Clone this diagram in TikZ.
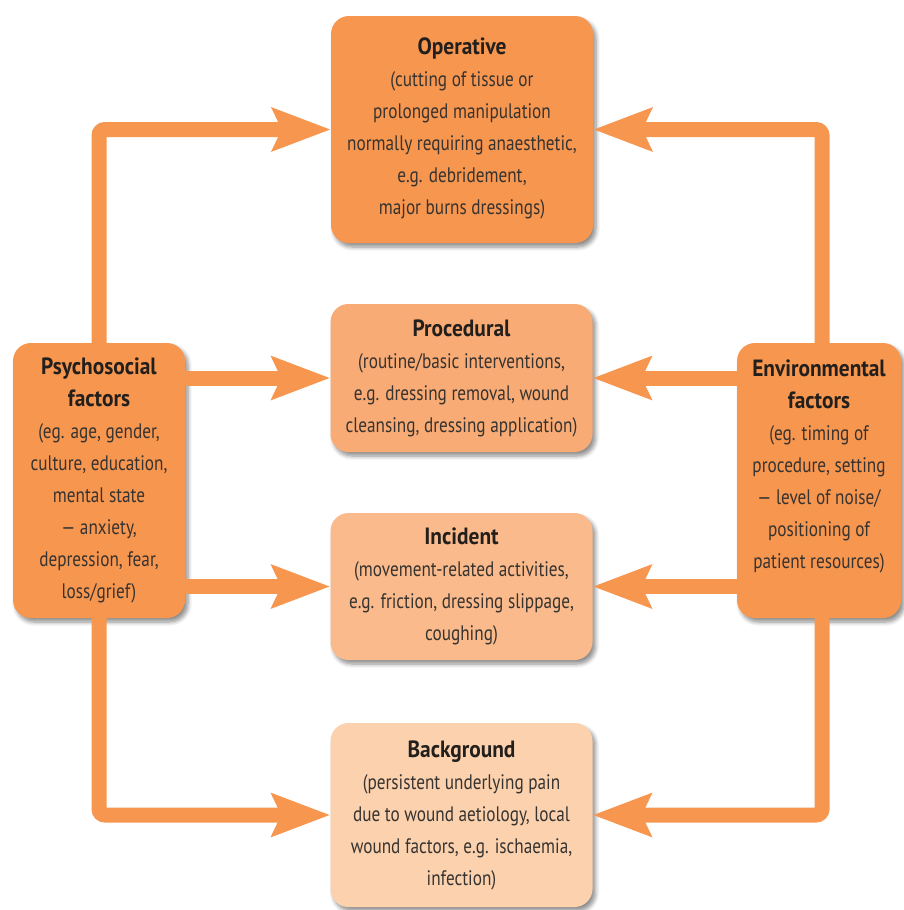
\documentclass[tikz,border=0pt]{standalone}
\usepackage{fontspec}
\setmainfont{PT Sans}[FakeStretch=0.82]
\newfontfamily\headf{PT Sans}[FakeStretch=0.91]
\usetikzlibrary{arrows.meta,shadows.blur,calc}
\definecolor{orA}{HTML}{F7964F}
\definecolor{orB}{HTML}{F8AB74}
\definecolor{orC}{HTML}{FABA8B}
\definecolor{orD}{HTML}{FCD1AE}
\definecolor{txt}{HTML}{363330}
\definecolor{hdc}{HTML}{221F1C}
\tikzset{
  box/.style={rectangle, rounded corners=18pt, inner sep=0pt, align=center,
    text=txt, font={\fontsize{21}{32}\selectfont},
    blur shadow={shadow xshift=3pt, shadow yshift=-4pt, shadow blur steps=6, shadow blur radius=4pt, shadow opacity=45}},
  arr/.style={draw=orA, line width=15pt, rounded corners=6pt,
    -{Stealth[length=58pt, width=42pt, inset=9pt]}},
}
\newcommand{\hd}[1]{{\headf\fontsize{23.5}{32}\selectfont\bfseries\color{hdc}#1}}
\begin{document}
\begin{tikzpicture}[x=1pt,y=-1pt]
\useasboundingbox (0,0) rectangle (903,910);
\node[box, fill=orA, minimum width=262pt, minimum height=227pt] (op) at (462,129.5)
  {\hd{Operative}\\(cutting of tissue or\\prolonged manipulation\\normally requiring anaesthetic,\\e.g. debridement,\\major burns dressings)\\[-26pt]\mbox{}};
\node[box, fill=orB, minimum width=262pt, minimum height=148pt] (proc) at (461.5,378)
  {\hd{Procedural}\\(routine/basic interventions,\\e.g. dressing removal, wound\\cleansing, dressing application)};
\node[box, fill=orC, minimum width=262pt, minimum height=147pt] (inc) at (461.5,586.5)
  {\hd{Incident}\\(movement-related activities,\\e.g. friction, dressing slippage,\\coughing)};
\node[box, fill=orD, minimum width=262pt, minimum height=184pt] (bg) at (461.5,815)
  {\hd{Background}\\(persistent underlying pain\\due to wound aetiology, local\\wound factors, e.g. ischaemia,\\infection)};
\node[box, fill=orA, minimum width=172pt, minimum height=275pt] (psy) at (99,480.5)
  {\hd{Psychosocial}\\\hd{factors}\\(eg. age, gender,\\culture, education,\\mental state\\— anxiety,\\depression, fear,\\loss/grief)};
\node[box, fill=orA, minimum width=164pt, minimum height=275pt] (env) at (819,480.5)
  {\hd{Environmental}\\\hd{factors}\\(eg. timing of\\procedure, setting\\— level of noise/\\positioning of\\patient resources)\\\mbox{}};
\draw[arr] (psy.north) |- (op.west);
\draw[arr] (psy.east |- proc.west) -- (proc.west);
\draw[arr] (psy.east |- inc.west) -- (inc.west);
\draw[arr] (psy.south) |- (bg.west);
\draw[arr] ([xshift=3pt]env.north) |- (op.east);
\draw[arr] (env.west |- proc.east) -- (proc.east);
\draw[arr] (env.west |- inc.east) -- (inc.east);
\draw[arr] ([xshift=3pt]env.south) |- (bg.east);
\end{tikzpicture}
\end{document}
